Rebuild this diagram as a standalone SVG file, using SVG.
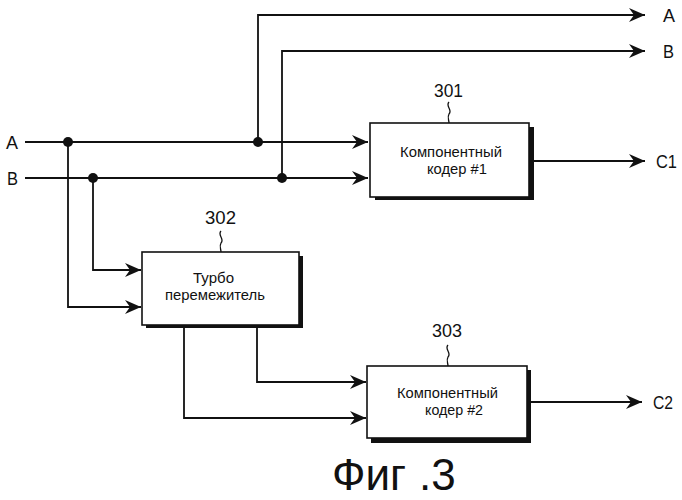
<svg xmlns="http://www.w3.org/2000/svg" width="682" height="500" viewBox="0 0 682 500">
<style>
.t{font-family:"Liberation Sans Narrow","Liberation Sans",Arial,sans-serif;fill:#111}
.lbl{font-size:19px}
.box{font-size:15px}
.ln{fill:none;stroke:#111;stroke-width:1.8}
.bx{fill:#fff;stroke:#111;stroke-width:1.6}
.sh{fill:#111}
.dot{fill:#111}
.sq{fill:none;stroke:#111;stroke-width:1.3}
</style>
<defs>
<marker id="ar" markerUnits="userSpaceOnUse" markerWidth="20" markerHeight="16" refX="16" refY="7" orient="auto" viewBox="0 0 20 16">
<path d="M16,7 L0,0 L5,7 L0,14 Z" fill="#111"/>
</marker>
</defs>
<rect width="682" height="500" fill="#fff"/>

<g id="connectors">
<path class="ln" d="M25,142 H368" marker-end="url(#ar)"/>
<path class="ln" d="M25,178 H368" marker-end="url(#ar)"/>
<path class="ln" d="M258,142 V15 H645" marker-end="url(#ar)"/>
<path class="ln" d="M282,178 V51 H645" marker-end="url(#ar)"/>
<path class="ln" d="M68,142 V307 H141" marker-end="url(#ar)"/>
<path class="ln" d="M93,178 V270 H141" marker-end="url(#ar)"/>
<path class="ln" d="M257,325 V382 H366" marker-end="url(#ar)"/>
<path class="ln" d="M184,325 V418 H366" marker-end="url(#ar)"/>
<path class="ln" d="M529,161 H645" marker-end="url(#ar)"/>
<path class="ln" d="M527,402 H642" marker-end="url(#ar)"/>
<circle class="dot" cx="68" cy="142" r="5"/>
<circle class="dot" cx="258" cy="142" r="5"/>
<circle class="dot" cx="93" cy="178" r="5"/>
<circle class="dot" cx="282" cy="178" r="5"/>
</g>

<g id="labels">
<text class="t lbl" x="6" y="149" textLength="12" lengthAdjust="spacingAndGlyphs">A</text>
<text class="t lbl" x="7" y="185" textLength="11" lengthAdjust="spacingAndGlyphs">B</text>
<text class="t lbl" x="663" y="22" textLength="12" lengthAdjust="spacingAndGlyphs">A</text>
<text class="t lbl" x="663" y="58" textLength="11" lengthAdjust="spacingAndGlyphs">B</text>
<text class="t lbl" x="656" y="168" textLength="21" lengthAdjust="spacingAndGlyphs">C1</text>
<text class="t lbl" x="653" y="409" textLength="20" lengthAdjust="spacingAndGlyphs">C2</text>
</g>

<g id="node301">
<rect class="sh" x="375" y="127" width="159" height="73"/>
<rect class="bx" x="370" y="123" width="159" height="74"/>
<text class="t box" x="400" y="157" textLength="102" lengthAdjust="spacingAndGlyphs">Компонентный</text>
<text class="t box" x="427" y="174" textLength="60" lengthAdjust="spacingAndGlyphs">кодер #1</text>
<text class="t lbl" x="434" y="97" textLength="29" lengthAdjust="spacingAndGlyphs">301</text>
<path class="sq" d="M449,102 c-4,4 4,8 0,12 c-2,3 0,6 0,9"/>
</g>

<g id="node302">
<rect class="sh" x="146" y="256" width="157" height="72"/>
<rect class="bx" x="142" y="252" width="157" height="73"/>
<text class="t box" x="193" y="283" textLength="41" lengthAdjust="spacingAndGlyphs">Турбо</text>
<text class="t box" x="165" y="300" textLength="100" lengthAdjust="spacingAndGlyphs">перемежитель</text>
<text class="t lbl" x="205" y="224" textLength="31" lengthAdjust="spacingAndGlyphs">302</text>
<path class="sq" d="M221,231 c-4,4 4,8 0,12 c-2,3 0,6 0,9"/>
</g>

<g id="node303">
<rect class="sh" x="371" y="370" width="160" height="73"/>
<rect class="bx" x="367" y="366" width="160" height="72"/>
<text class="t box" x="397" y="398" textLength="101" lengthAdjust="spacingAndGlyphs">Компонентный</text>
<text class="t box" x="425" y="415" textLength="58" lengthAdjust="spacingAndGlyphs">кодер #2</text>
<text class="t lbl" x="432" y="337" textLength="30" lengthAdjust="spacingAndGlyphs">303</text>
<path class="sq" d="M448,345 c-4,4 4,8 0,12 c-2,3 0,6 0,9"/>
</g>

<text class="t" x="332" y="490" font-size="44">Фиг<tspan x="419">.3</tspan></text>
</svg>
